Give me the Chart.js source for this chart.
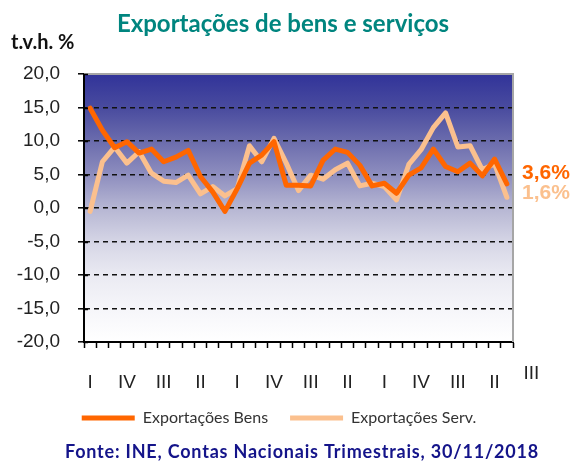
<!DOCTYPE html>
<html>
<head>
<meta charset="utf-8">
<script src="https://cdn.jsdelivr.net/npm/chart.js@4/dist/chart.umd.min.js"></script>
<style>
  html, body { margin: 0; padding: 0; background: #ffffff; }
  #wrap { width: 576px; height: 463px; position: relative; }
</style>
</head>
<body>
<div id="wrap"><canvas id="c" width="576" height="463"></canvas></div>
<script>
// ---- data ----
const quarters = ['I','II','III','IV','I','II','III','IV','I','II','III','IV',
                  'I','II','III','IV','I','II','III','IV','I','II','III','IV',
                  'I','II','III','IV','I','II','III','IV','I','II','III'];
const exportBens = [14.9, 11.6, 9.0, 9.9, 8.2, 8.8, 6.9, 7.6, 8.6, 4.7, 2.4, -0.5,
                    2.9, 6.7, 7.9, 9.9, 3.4, 3.4, 3.3, 7.1, 8.8, 8.3, 6.4, 3.3,
                    3.7, 2.2, 4.9, 6.0, 8.8, 6.2, 5.4, 6.7, 4.8, 7.3, 3.6];
const exportServ = [-0.5, 6.9, 9.1, 6.7, 8.4, 5.2, 4.0, 3.8, 4.9, 2.1, 3.2, 1.8,
                    2.9, 9.3, 6.9, 10.4, 6.7, 2.6, 4.9, 4.3, 5.7, 6.7, 3.3, 3.7,
                    3.2, 1.2, 6.5, 8.7, 12.0, 14.2, 9.1, 9.3, 5.7, 6.6, 1.6];
const seriesNames = ['Exportações Bens', 'Exportações Serv.'];
const extraQuarterLabel = 'III';
const yTicks = [-20, -15, -10, -5, 0, 5, 10, 15, 20];
const titleText = 'Exportações de bens e serviços';
const unitText = 't.v.h. %';
const sourceText = 'Fonte: INE, Contas Nacionais Trimestrais, 30/11/2018';

const COL_BENS = '#FF6600';
const COL_SERV = '#FBC08E';

const fmt = v => v.toFixed(1).replace('.', ',');

const bgPlugin = {
  id: 'bg',
  beforeDraw(chart) {
    const {ctx, chartArea: a} = chart;
    const g = ctx.createLinearGradient(0, a.top, 0, a.bottom);
    g.addColorStop(0.00, '#313399');
    g.addColorStop(0.13, '#4a4c9f');
    g.addColorStop(0.25, '#6b6cad');
    g.addColorStop(0.38, '#8f8fbf');
    g.addColorStop(0.50, '#b6b6d3');
    g.addColorStop(0.63, '#d6d6e6');
    g.addColorStop(0.75, '#eaeaf2');
    g.addColorStop(0.88, '#f6f6fa');
    g.addColorStop(1.00, '#ffffff');
    ctx.save();
    ctx.fillStyle = g;
    ctx.fillRect(a.left, a.top, a.right - a.left, a.bottom - a.top);
    ctx.restore();
  }
};

const decoPlugin = {
  id: 'deco',
  afterDraw(chart) {
    const {ctx, chartArea: a, scales} = chart;
    ctx.save();
    // gray frame top and right
    ctx.strokeStyle = '#a6a6a6';
    ctx.lineWidth = 2;
    ctx.beginPath();
    ctx.moveTo(a.left, a.top);
    ctx.lineTo(a.right, a.top);
    ctx.lineTo(a.right, a.bottom);
    ctx.stroke();
    // inner part of y ticks (crossing the axis)
    ctx.strokeStyle = '#000';
    ctx.lineWidth = 1.5;
    yTicks.forEach(v => {
      const y = Math.round(scales.y.getPixelForValue(v)) + 0.5;
      ctx.beginPath();
      ctx.moveTo(a.left, y);
      ctx.lineTo(a.left + 4, y);
      ctx.stroke();
    });
    // title
    ctx.textBaseline = 'middle';
    ctx.textAlign = 'center';
    ctx.fillStyle = '#00857F';
    ctx.font = 'bold 24px Lato';
    ctx.fillText(titleText, 283, 24);
    // unit
    ctx.textAlign = 'left';
    ctx.fillStyle = '#111';
    ctx.font = 'bold 20px Lato';
    ctx.fillText(unitText, 11, 43);
    // source
    ctx.textAlign = 'center';
    ctx.fillStyle = '#14148A';
    ctx.font = 'bold 18px Lato';
    if ('letterSpacing' in ctx) ctx.letterSpacing = '0.8px';
    ctx.fillText(sourceText, 302, 452);
    if ('letterSpacing' in ctx) ctx.letterSpacing = '0px';
    // extra quarter label beyond the last category
    ctx.fillStyle = '#222';
    ctx.font = '19px "Liberation Sans", Arial, sans-serif';
    const xe = scales.x.getPixelForValue(quarters.length + 1);
    ctx.fillText(extraQuarterLabel, xe, 374);
    // last values
    ctx.textAlign = 'left';
    ctx.font = 'bold 21px "Liberation Sans", Arial, sans-serif';
    ctx.fillStyle = COL_BENS;
    ctx.fillText(fmt(exportBens[exportBens.length - 1]) + '%', a.right + 9, 173);
    ctx.fillStyle = COL_SERV;
    ctx.fillText(fmt(exportServ[exportServ.length - 1]) + '%', a.right + 9, 193);
    ctx.restore();
  }
};

new Chart(document.getElementById('c'), {
  type: 'line',
  data: {
    labels: quarters,
    datasets: [
      { label: seriesNames[0], data: exportBens, borderColor: COL_BENS, backgroundColor: COL_BENS,
        borderWidth: 5, pointRadius: 0, tension: 0, borderJoinStyle: 'round', borderCapStyle: 'round', yAxisID: 'y' },
      { label: seriesNames[1], data: exportServ, borderColor: COL_SERV, backgroundColor: COL_SERV,
        borderWidth: 5, pointRadius: 0, tension: 0, borderJoinStyle: 'round', borderCapStyle: 'round', yAxisID: 'y' }
    ]
  },
  options: {
    responsive: false,
    animation: false,
    devicePixelRatio: 1,
    layout: { padding: { top: 74, left: 0, right: 18, bottom: 27 } },
    plugins: {
      title: { display: false },
      tooltip: { enabled: false },
      legend: {
        display: true,
        position: 'bottom',
        align: 'center',
        labels: {
          boxWidth: 53,
          boxHeight: 5,
          padding: 22,
          color: '#333',
          font: { family: 'Lato', size: 16 },
          generateLabels(chart) {
            return chart.data.datasets.map((ds, i) => ({
              text: ds.label,
              fillStyle: ds.borderColor,
              strokeStyle: ds.borderColor,
              lineWidth: 0,
              hidden: false,
              datasetIndex: i,
              fontColor: '#333'
            }));
          }
        }
      }
    },
    scales: {
      x: {
        type: 'category',
        offset: true,
        afterFit(s) { s.height = 46; },
        grid: { display: true, offset: true, drawOnChartArea: false, drawTicks: true,
                tickLength: 6, tickColor: '#000', tickWidth: 1.5 },
        border: { display: true, color: '#000', width: 2 },
        ticks: {
          autoSkip: false, maxRotation: 0, minRotation: 0, padding: 23,
          color: '#222', font: { family: '"Liberation Sans", Arial, sans-serif', size: 19 },
          callback(v, i) { return i % 3 === 0 ? quarters[i] : ''; }
        }
      },
      y: {
        position: 'left',
        min: -20, max: 20,
        afterFit(s) { s.width = 84; },
        afterBuildTicks(s) { s.ticks = yTicks.map(v => ({ value: v })); },
        grid: {
          display: true, drawOnChartArea: true, drawTicks: true,
          color: ctx => (ctx.tick && (ctx.tick.value === 20 || ctx.tick.value === -20)) ? 'rgba(0,0,0,0)' : '#111',
          lineWidth: 1.6,
          tickLength: 6, tickColor: '#000', tickWidth: 1.5, tickBorderDash: []
        },
        border: { display: true, color: '#000', width: 2, dash: [5, 4] },
        ticks: {
          padding: 18,
          color: '#222', font: { family: '"Liberation Sans", Arial, sans-serif', size: 19 },
          callback(v) { return fmt(v); }
        }
      },
      yRight: {
        position: 'right',
        afterFit(s) { s.width = 45; },
        grid: { display: false },
        border: { display: false },
        ticks: { display: false }
      }
    }
  },
  plugins: [bgPlugin, decoPlugin]
});
</script>
</body>
</html>
